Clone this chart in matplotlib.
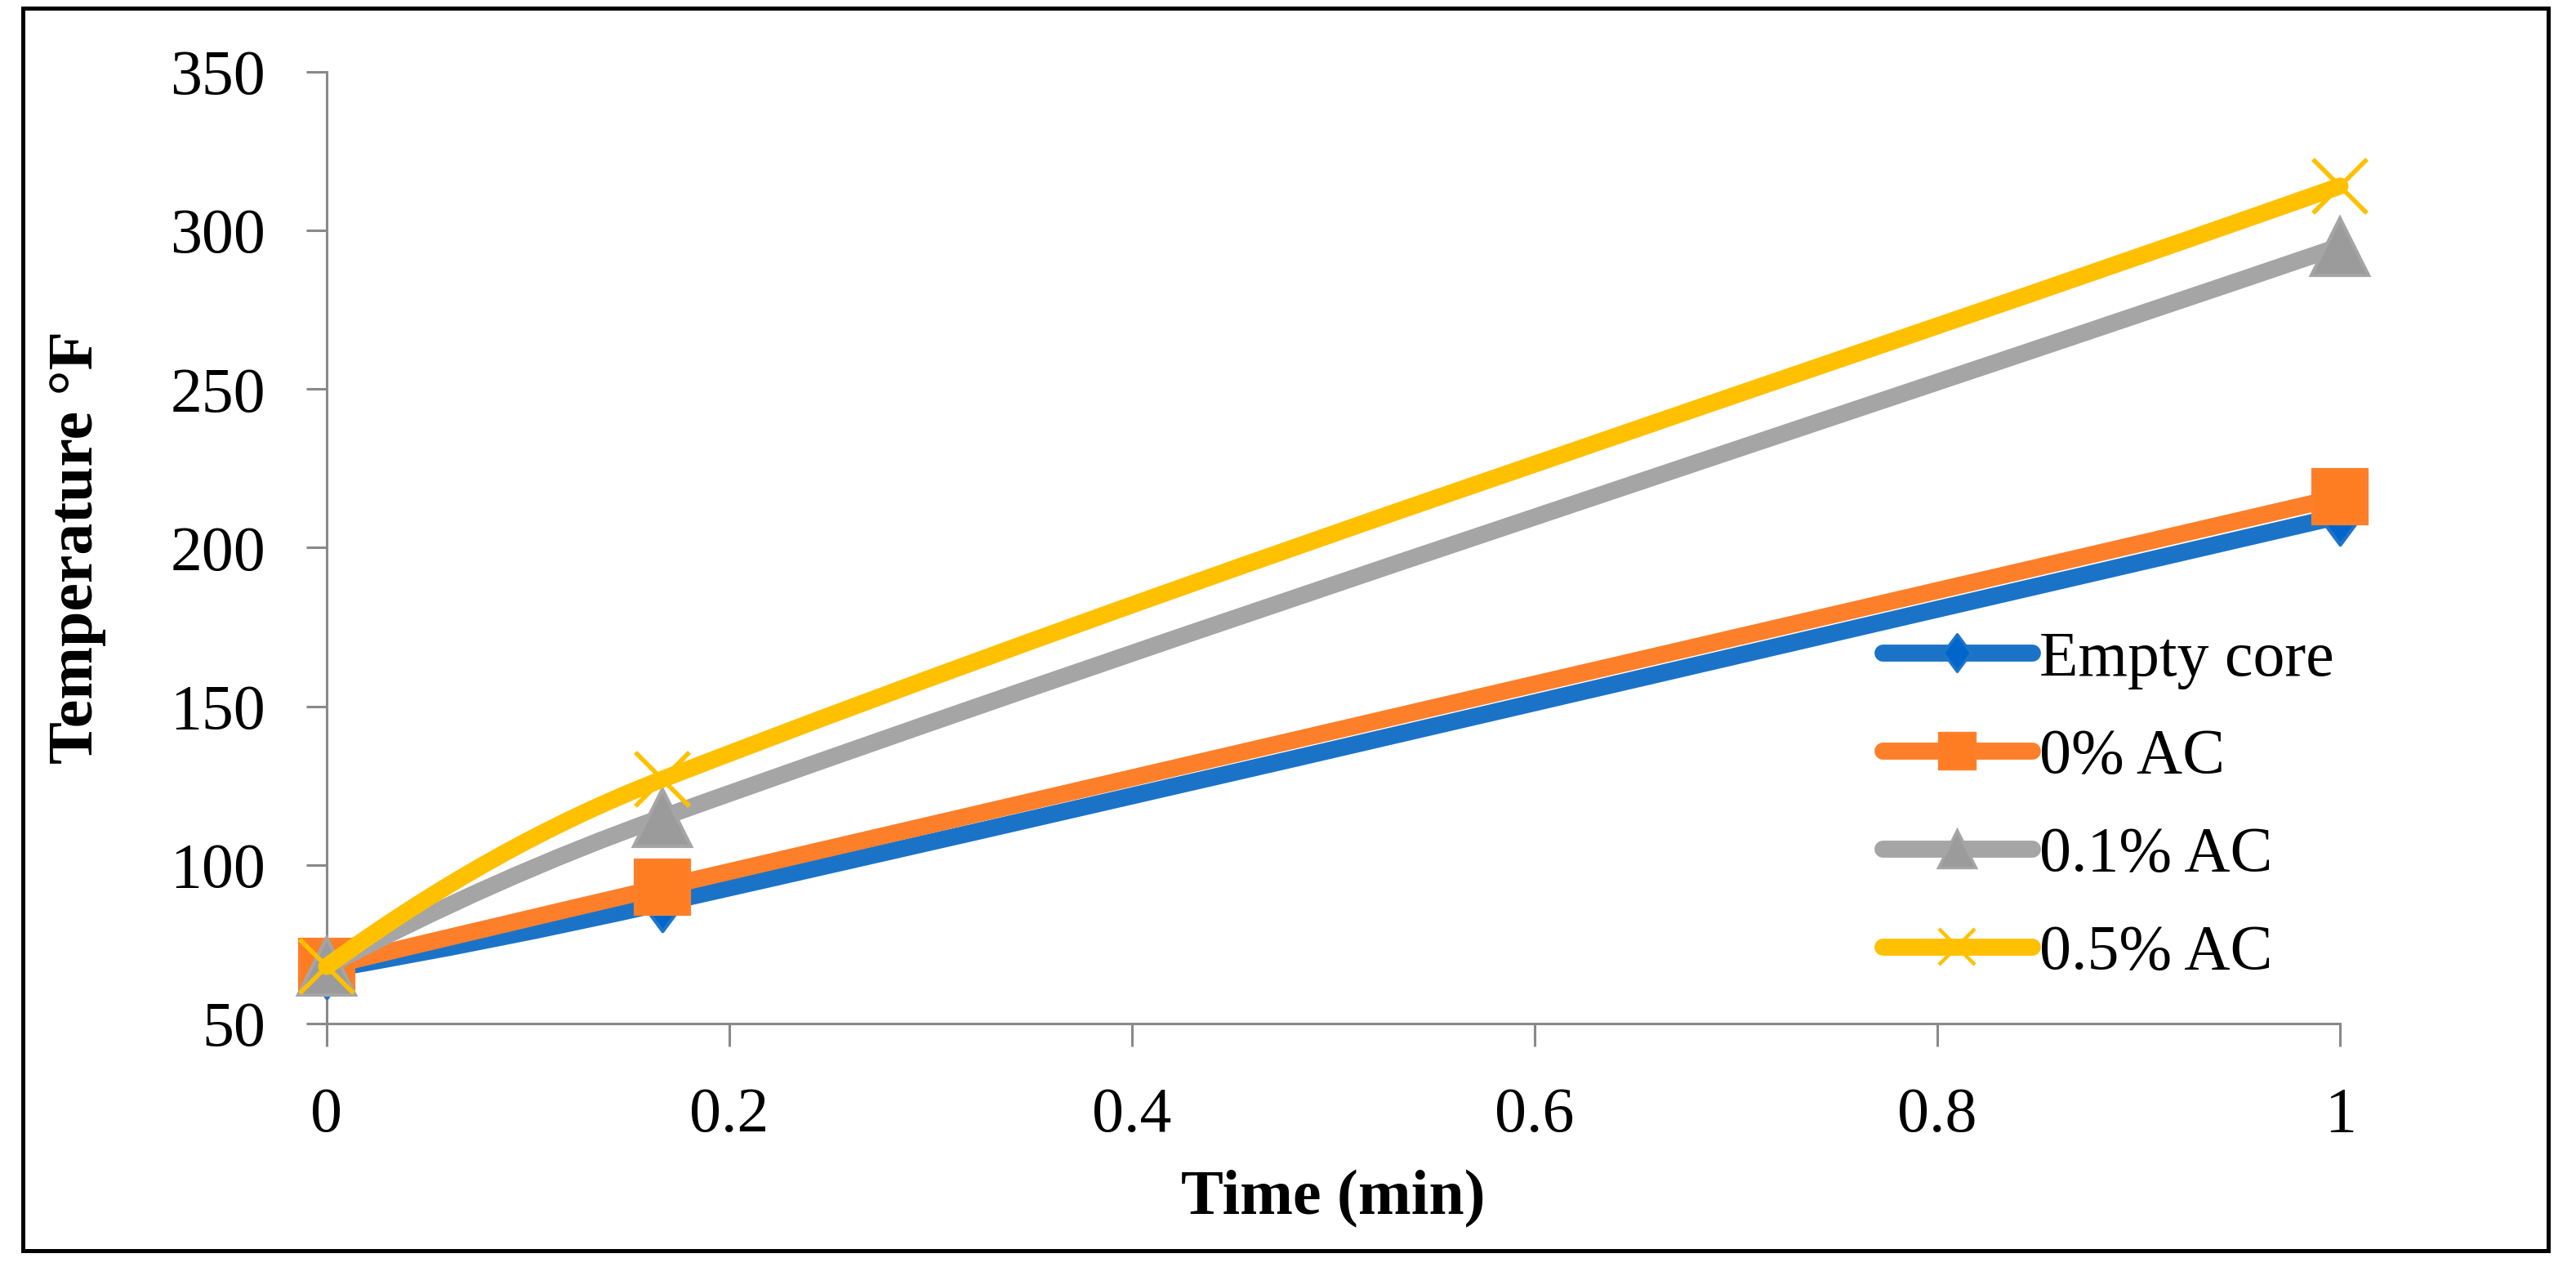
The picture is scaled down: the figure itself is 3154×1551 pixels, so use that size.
import matplotlib
matplotlib.use("Agg")
import matplotlib.pyplot as plt
from matplotlib.path import Path
from matplotlib.patches import PathPatch, Rectangle
from matplotlib.lines import Line2D

# datos
tiempo = [0, 1 / 6, 1]
empty_core = [67, 88, 210]
ac_0 = [68, 93, 216]
ac_01 = [68, 115, 295]
ac_05 = [68, 127, 314]

series_labels = ["Empty core", "0% AC", "0.1% AC", "0.5% AC"]
xticks = [0, 0.2, 0.4, 0.6, 0.8, 1]
xtick_labels = ["0", "0.2", "0.4", "0.6", "0.8", "1"]
yticks = [50, 100, 150, 200, 250, 300, 350]

plt.rcParams['font.family'] = ['Liberation Serif', 'DejaVu Serif']

# rombo de Excel (más alto que ancho)
rombo = Path([(0, 1), (0.74, 0), (0, -1), (-0.74, 0), (0, 1)],
             [Path.MOVETO, Path.LINETO, Path.LINETO, Path.LINETO, Path.CLOSEPOLY])

# estilos: color de línea, marcador, tamaño, relleno, borde, tamaño en leyenda
estilos = [
    ("#1B73C8", rombo, 25, "#0066CC", "#1F74C9", 16.5),
    ("#FE7F2A", "s", 24, "#FF7D22", "#FE7F2A", 16),
    ("#A5A5A5", "^", 25, "#9B9B9B", "#A5A5A5", 16.5),
    ("#FFC000", "x", 24, "#FFC000", "#FFC000", 16),
]
datos = [empty_core, ac_0, ac_01, ac_05]


def curva_suave(xs, ys):
    # línea suavizada (Hermite cúbica pasada a Bezier)
    n = len(xs)
    d = [(ys[i + 1] - ys[i]) / (xs[i + 1] - xs[i]) for i in range(n - 1)]
    m = [0.0] * n
    for i in range(1, n - 1):
        m[i] = (ys[i + 1] - ys[i - 1]) / (xs[i + 1] - xs[i - 1])
    m[0] = 2 * d[0] - m[1]
    m[-1] = d[-1]
    verts = [(xs[0], ys[0])]
    codes = [Path.MOVETO]
    for i in range(n - 1):
        h = xs[i + 1] - xs[i]
        verts += [(xs[i] + h / 3, ys[i] + m[i] * h / 3),
                  (xs[i + 1] - h / 3, ys[i + 1] - m[i + 1] * h / 3),
                  (xs[i + 1], ys[i + 1])]
        codes += [Path.CURVE4] * 3
    return Path(verts, codes)


fig = plt.figure(figsize=(15.77, 7.755), dpi=200)
ax = fig.add_axes([0.1268, 0.1921, 0.7816, 0.7512])

z = 3
handles = []
for ys, lab, (col, mk, ms, mfc, mec, ms_leg) in zip(datos, series_labels, estilos):
    patch = PathPatch(curva_suave(tiempo, ys), fill=False, edgecolor=col,
                      linewidth=7.5, capstyle='round', joinstyle='round',
                      zorder=z, clip_on=False)
    ax.add_patch(patch)
    mew = 2.0 if mk == "x" else 1.5
    ax.plot(tiempo, ys, linestyle='none', marker=mk, markersize=ms,
            markerfacecolor=mfc, markeredgecolor=mec, markeredgewidth=mew,
            zorder=z + 1, clip_on=False)
    handles.append(Line2D([], [], color=col, linewidth=7.5, marker=mk,
                          markersize=ms_leg, markerfacecolor=mfc,
                          markeredgecolor=mec, markeredgewidth=mew * 0.8,
                          solid_capstyle='round', label=lab))
    z += 2

ax.set_xlim(0, 1)
ax.set_ylim(50, 350)
ax.set_xticks(xticks)
ax.set_xticklabels(xtick_labels)
ax.set_yticks(yticks)

gris = "#898989"
for s in ["top", "right"]:
    ax.spines[s].set_visible(False)
for s in ["left", "bottom"]:
    ax.spines[s].set_color(gris)
    ax.spines[s].set_linewidth(1.1)
ax.tick_params(axis='both', colors=gris, labelcolor='black', labelsize=28,
               width=1.1, pad=18, direction='out')
ax.tick_params(axis='y', length=9)
ax.tick_params(axis='x', length=10)

ax.set_xlabel("Time (min)", fontsize=28, fontweight='bold', va='center')
ax.xaxis.set_label_coords(0.5, -0.1845)
ax.set_ylabel("Temperature °F", fontsize=28, fontweight='bold', va='center')
ax.yaxis.set_label_coords(-0.1237, 0.5)

ax.legend(handles=handles, loc='center left',
          bbox_to_anchor=(0.7308, 0.3633), bbox_transform=fig.transFigure,
          frameon=False, fontsize=28, borderpad=0, borderaxespad=0,
          handlelength=2.35, handletextpad=0.12, labelspacing=0.62)

# marco exterior
fig.patches.append(Rectangle((0.0089, 0.0129), 0.9803, 0.9807,
                             transform=fig.transFigure, fill=False,
                             edgecolor='black', linewidth=1.8))

fig.savefig("out.png", dpi=200, facecolor='white')
